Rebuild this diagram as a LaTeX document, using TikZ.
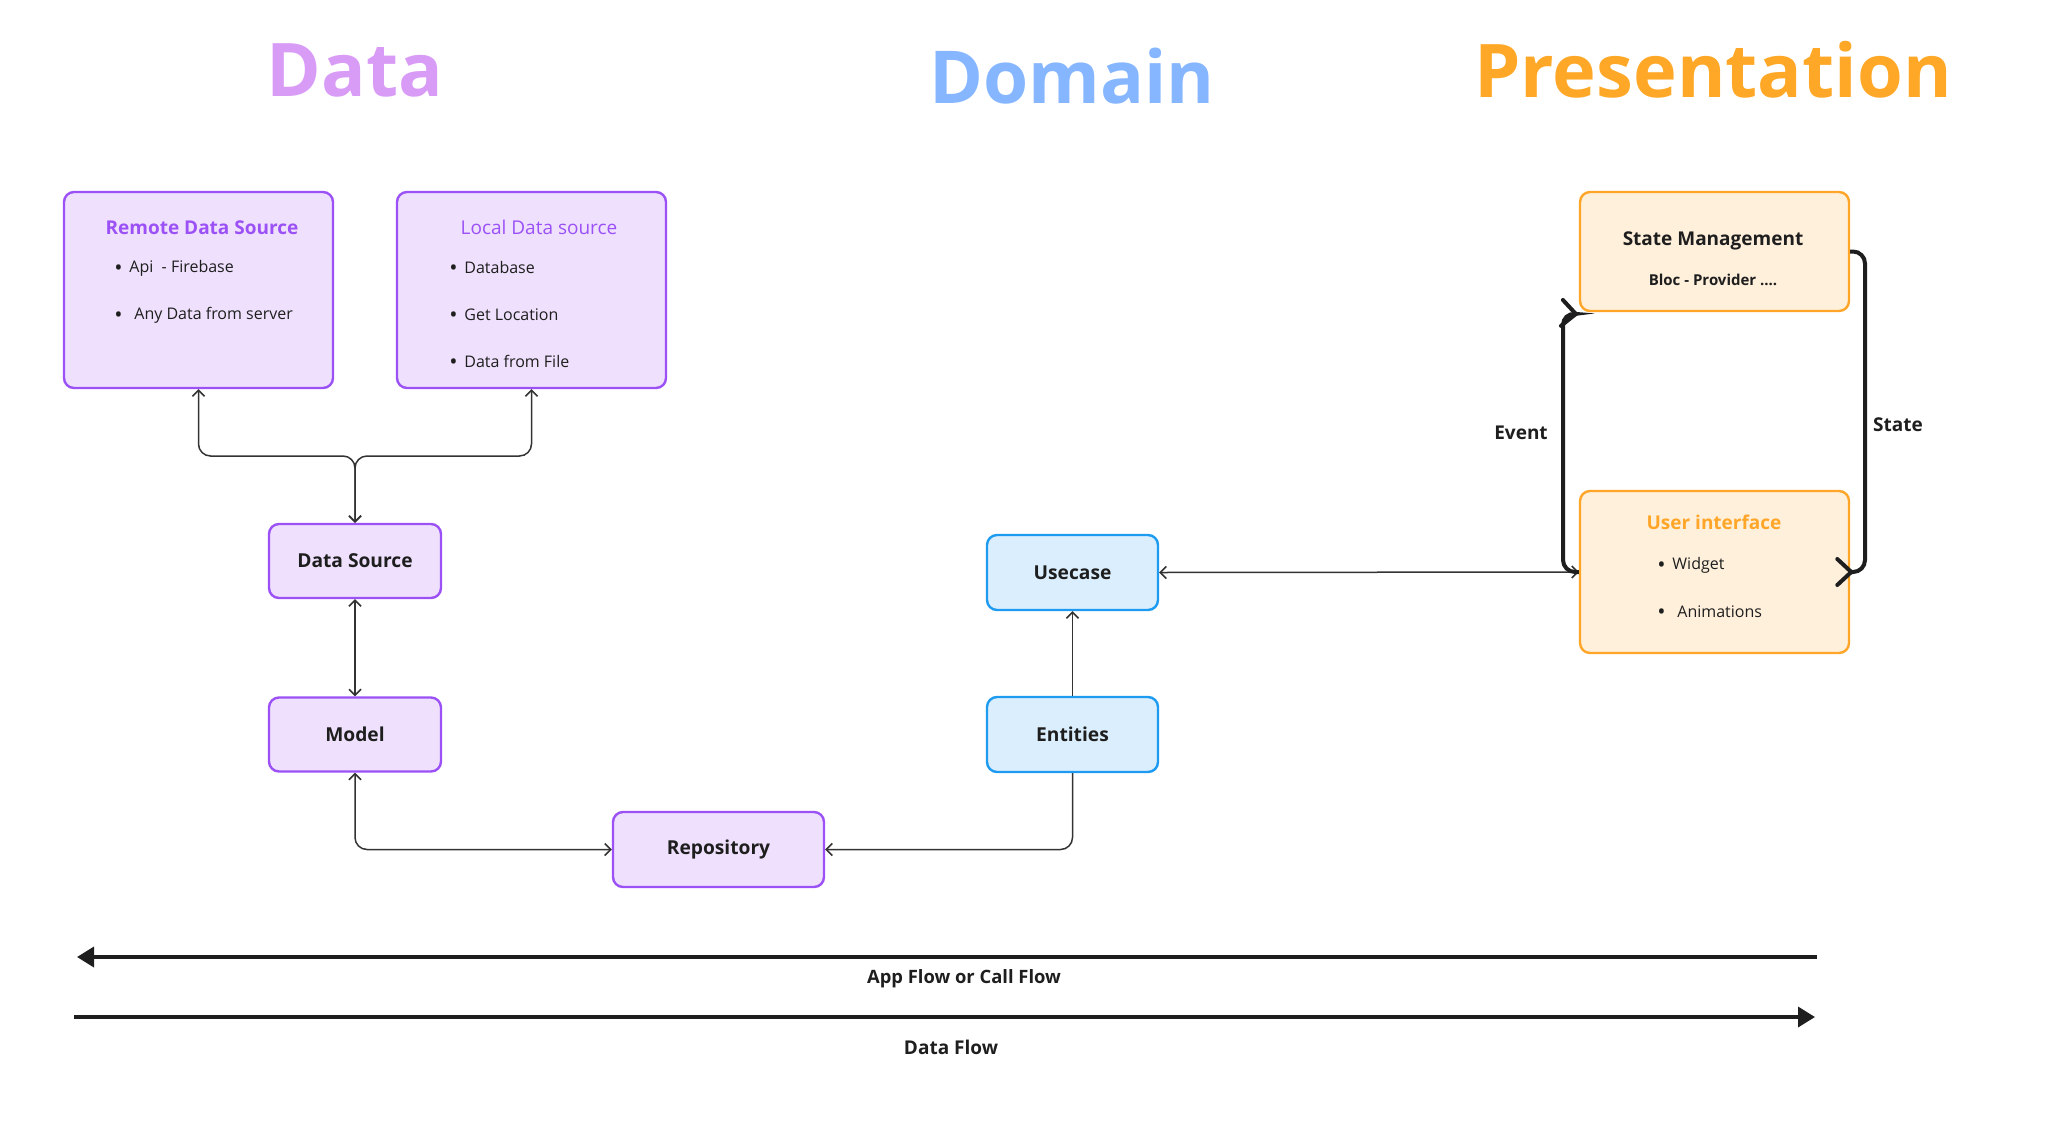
\documentclass[tikz,border=0pt]{standalone}
\usepackage{fontspec}
\setmainfont{Open Sans}
\usetikzlibrary{arrows.meta}
\definecolor{txt}{HTML}{1E1E1E}
\definecolor{pfill}{HTML}{EFE1FD}
\definecolor{pdraw}{HTML}{9B51F5}
\definecolor{bfill}{HTML}{DAEEFD}
\definecolor{bdraw}{HTML}{1D9BF0}
\definecolor{ofill}{HTML}{FFF0DC}
\definecolor{odraw}{HTML}{FFA629}
\definecolor{tdata}{HTML}{D99CF6}
\definecolor{tdomain}{HTML}{86B6FF}
\definecolor{tpres}{HTML}{FFA726}
\definecolor{line}{HTML}{333333}
\newcommand{\bul}[1]{\makebox[#1][l]{\raisebox{-1.2pt}{\fontsize{11}{11}\selectfont •}}}
\tikzset{
  tipA/.tip={Straight Barb[length=3pt,width=6pt]},
  tipB/.tip={Straight Barb[length=7pt,width=13pt,line cap=round]},
  tipC/.tip={Triangle[length=8.5pt,width=10pt]}
}
\begin{document}
\begin{tikzpicture}[x=0.5pt,y=-0.5pt,
  box/.style={draw, rounded corners=5pt, line width=1.2pt, inner sep=0pt, text=txt},
  pbox/.style={box, fill=pfill, draw=pdraw},
  bbox/.style={box, fill=bfill, draw=bdraw},
  obox/.style={box, fill=ofill, draw=odraw},
  heading/.style={font=\fontsize{37}{40}\selectfont\bfseries},
  lbl/.style={font=\fontsize{9.6}{12}\selectfont\bfseries, text=txt},
  ttl/.style={font=\fontsize{9.5}{11}\selectfont\bfseries},
  item/.style={font=\fontsize{8}{9}\selectfont, text=txt, anchor=west, inner sep=0pt},
  conn/.style={draw=line, line width=0.75pt, rounded corners=6pt},
  thick/.style={draw=txt, line width=2pt, rounded corners=6pt},
  flow/.style={draw=txt, line width=1.8pt}
]
\useasboundingbox (0,0) rectangle (2048,1124);
% headings
\node[heading, text=tdata] (hdata) at (355,70) {Data};
\node[heading, text=tdomain, font=\fontsize{36.5}{40}\selectfont\bfseries] (hdomain) at (1072,76) {Domain};
\node[heading, text=tpres] (hpres) at (1713,70) {Presentation};
% data boxes
\node[pbox, minimum width=134.5pt, minimum height=98pt] (remote) at (198.5,290) {};
\node[pbox, minimum width=134.5pt, minimum height=98pt] (local) at (531.5,290) {};
\node[ttl, text=pdraw] (remotet) at (202,227.5) {Remote Data Source};
\node[font=\fontsize{9.5}{11}\selectfont, text=pdraw] (localt) at (539,227.5) {Local Data source};
\node[item] (r1) at (114,268.5) {\bul{7.5pt}Api\ \ - Firebase};
\node[item] (r2) at (114,315.5) {\bul{10pt}Any Data from server};
\node[item] (l1) at (449,268.5) {\bul{7.5pt}Database};
\node[item] (l2) at (449,315.5) {\bul{7.5pt}Get Location};
\node[item] (l3) at (449,362.5) {\bul{7.5pt}Data from File};
\node[pbox, lbl, minimum width=86pt, minimum height=37pt] (ds) at (355,561) {Data Source};
\node[pbox, lbl, minimum width=86pt, minimum height=37pt] (model) at (355,734.5) {Model};
\node[pbox, lbl, minimum width=105.5pt, minimum height=37.5pt] (repo) at (718.5,849.5) {Repository};
% domain boxes
\node[bbox, lbl, minimum width=85.5pt, minimum height=37.5pt] (usecase) at (1072.5,572.5) {Usecase};
\node[bbox, lbl, minimum width=85.5pt, minimum height=37.5pt] (entities) at (1072.5,734.5) {Entities};
% presentation boxes
\node[obox, minimum width=134.5pt, minimum height=59.5pt] (sm) at (1714.5,251.5) {};
\node[ttl, text=txt] (smt) at (1713,241) {State Management};
\node[font=\fontsize{7.5}{9}\selectfont\bfseries, text=txt] (sms) at (1713,279.5) {Bloc - Provider ....};
\node[obox, minimum width=134.5pt, minimum height=81pt] (ui) at (1714.5,572) {};
\node[ttl, text=odraw] (uit) at (1714,522) {User interface};
\node[item] (u1) at (1657,565.5) {\bul{7.5pt}Widget};
\node[item] (u2) at (1657,612.5) {\bul{10pt}Animations};
% connectors
\coordinate (fork) at (355,456);
\path[conn, tipA-tipA] (remote.south) |- (fork) -- (ds.north);
\path[conn, tipA-tipA] (local.south) |- (fork) -- (ds.north);
\path[conn, tipA-tipA] (ds.south) -- (model.north);
\path[conn, tipA-tipA] (model.south) |- (repo.west);
\path[conn, -tipA] (entities.south) |- (repo.east);
\path[conn, -tipA] (entities.north) -- (usecase.south);
\path[conn, tipA-tipA] (usecase.east) -- (ui.west);
% event / state
\coordinate (ev1) at (1563,572);
\coordinate (ev2) at (1563,313);
\path[thick, -tipB] (ui.west) -- (ev1) -- (ev2) -- ([yshift=-1pt]sm.south west);
\coordinate (st1) at (1865,251.5);
\coordinate (st2) at (1865,572);
\path[thick, -tipB] (sm.east) -- (st1) -- (st2) -- ([xshift=2pt]ui.east);
\node[lbl, font=\fontsize{9.5}{11}\selectfont\bfseries] (evl) at (1521,433) {Event};
\node[lbl, font=\fontsize{9.5}{11}\selectfont\bfseries] (stl) at (1898,425) {State};
% flows
\coordinate (a1) at (1817,957);
\coordinate (a2) at (77,957);
\path[flow, -tipC] (a1) -- (a2);
\node[lbl, font=\fontsize{9.2}{11}\selectfont\bfseries] (afl) at (964,979) {App Flow or Call Flow};
\coordinate (d1) at (74,1017);
\coordinate (d2) at (1815,1017);
\path[flow, -tipC] (d1) -- (d2);
\node[lbl, font=\fontsize{9.5}{11}\selectfont\bfseries] (dfl) at (951,1047) {Data Flow};
\end{tikzpicture}
\end{document}
